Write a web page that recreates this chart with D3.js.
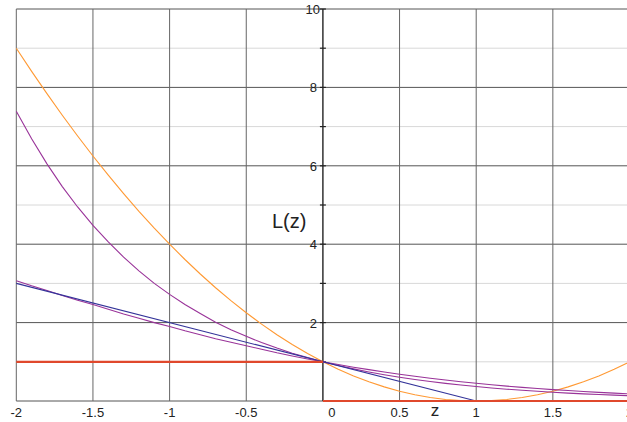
<!DOCTYPE html>
<html>
<head>
<meta charset="utf-8">
<script src="https://cdn.jsdelivr.net/npm/d3@7"></script>
<style>
  body { margin: 0; background: #fff; }
  svg { display: block; font-family: "Liberation Sans", Arial, sans-serif; }
</style>
</head>
<body>
<svg width="627" height="422"></svg>
<script>
// sample points along z
var zs = [-2, -1.9, -1.8, -1.7, -1.6, -1.5, -1.4, -1.3, -1.2, -1.1, -1,
          -0.9, -0.8, -0.7, -0.6, -0.5, -0.4, -0.3, -0.2, -0.1, 0,
          0.1, 0.2, 0.3, 0.4, 0.5, 0.6, 0.7, 0.8, 0.9, 1,
          1.1, 1.2, 1.3, 1.4, 1.5, 1.6, 1.7, 1.8, 1.9, 2];

var squareLoss = [9, 8.41, 7.84, 7.29, 6.76, 6.25, 5.76, 5.29, 4.84, 4.41, 4,
                  3.61, 3.24, 2.89, 2.56, 2.25, 1.96, 1.69, 1.44, 1.21, 1,
                  0.81, 0.64, 0.49, 0.36, 0.25, 0.16, 0.09, 0.04, 0.01, 0,
                  0.01, 0.04, 0.09, 0.16, 0.25, 0.36, 0.49, 0.64, 0.81, 1];

var expLoss = [7.39, 6.69, 6.05, 5.47, 4.95, 4.48, 4.06, 3.67, 3.32, 3.00, 2.72,
               2.46, 2.23, 2.01, 1.82, 1.65, 1.49, 1.35, 1.22, 1.11, 1,
               0.905, 0.819, 0.741, 0.670, 0.607, 0.549, 0.497, 0.449, 0.407, 0.368,
               0.333, 0.301, 0.273, 0.247, 0.223, 0.202, 0.183, 0.165, 0.150, 0.135];

var logLoss = [3.07, 2.94, 2.82, 2.69, 2.57, 2.46, 2.34, 2.22, 2.11, 2.00, 1.90,
               1.79, 1.69, 1.59, 1.50, 1.41, 1.32, 1.23, 1.15, 1.07, 1,
               0.930, 0.863, 0.800, 0.740, 0.684, 0.631, 0.582, 0.535, 0.492, 0.452,
               0.415, 0.380, 0.348, 0.319, 0.291, 0.266, 0.242, 0.221, 0.201, 0.183];

var hingeZ = [-2, 1, 2];
var hingeLoss = [3, 0, 0];

// 0-1 loss, two flat pieces (no vertical jump drawn)
var stepLeftZ = [-2, 0];
var stepLeftLoss = [1, 1];
var stepRightZ = [0, 2];
var stepRightLoss = [0, 0];

var xTicks = [-2, -1.5, -1, -0.5, 0, 0.5, 1, 1.5, 2];
var xTickLabels = ["-2", "-1.5", "-1", "-0.5", "0", "0.5", "1", "1.5", "2"];
var yMajor = [2, 4, 6, 8, 10];
var yMinor = [1, 3, 5, 7, 9];

var svg = d3.select("svg");

var x = d3.scaleLinear().domain([-2, 2]).range([16.3, 629.5]);
var y = d3.scaleLinear().domain([0, 10]).range([401, 9]);

function pts(xs, ys) {
  return xs.map(function(v, i) { return [v, ys[i]]; });
}

var line = d3.line()
  .x(function(d) { return x(d[0]); })
  .y(function(d) { return y(d[1]); });

// light grid at odd values
svg.append("g").selectAll("line")
  .data(yMinor).enter().append("line")
  .attr("x1", x(-2)).attr("x2", 627)
  .attr("y1", function(d) { return y(d); })
  .attr("y2", function(d) { return y(d); })
  .attr("stroke", "#d8d8d8").attr("stroke-width", 1);

// dark grid
svg.append("g").selectAll("line")
  .data(yMajor.concat([0])).enter().append("line")
  .attr("x1", x(-2)).attr("x2", 627)
  .attr("y1", function(d) { return y(d); })
  .attr("y2", function(d) { return y(d); })
  .attr("stroke", "#555").attr("stroke-width", 1);

svg.append("g").selectAll("line")
  .data(xTicks.filter(function(d) { return d !== 0; })).enter().append("line")
  .attr("x1", function(d) { return x(d); })
  .attr("x2", function(d) { return x(d); })
  .attr("y1", y(10)).attr("y2", y(0))
  .attr("stroke", "#666").attr("stroke-width", 1);

// z = 0 axis with small ticks
svg.append("line")
  .attr("x1", x(0)).attr("x2", x(0))
  .attr("y1", y(10)).attr("y2", y(0))
  .attr("stroke", "#222").attr("stroke-width", 1.4);

svg.append("g").selectAll("line")
  .data(yMinor.concat(yMajor)).enter().append("line")
  .attr("x1", x(0) - 3).attr("x2", x(0) + 3)
  .attr("y1", function(d) { return y(d); })
  .attr("y2", function(d) { return y(d); })
  .attr("stroke", "#222").attr("stroke-width", 1.2);

// curves
var curves = [
  { data: pts(zs, squareLoss), color: "#ff9933", w: 1.1 },
  { data: pts(zs, expLoss), color: "#993399", w: 1.1 },
  { data: pts(zs, logLoss), color: "#993399", w: 1.1 },
  { data: pts(hingeZ, hingeLoss), color: "#333399", w: 1.1 },
  { data: pts(stepLeftZ, stepLeftLoss), color: "#e0482c", w: 2.2 },
  { data: pts(stepRightZ, stepRightLoss), color: "#e0482c", w: 2.2 }
];

svg.append("g").selectAll("path")
  .data(curves).enter().append("path")
  .attr("d", function(d) { return line(d.data); })
  .attr("fill", "none")
  .attr("stroke", function(d) { return d.color; })
  .attr("stroke-width", function(d) { return d.w; });

// tick labels
svg.append("g").selectAll("text")
  .data(xTicks).enter().append("text")
  .attr("x", function(d) { return x(d) + (d === 0 ? 9 : 0); })
  .attr("y", 417)
  .attr("text-anchor", "middle")
  .attr("font-size", 13)
  .attr("fill", "#222")
  .text(function(d, i) { return xTickLabels[i]; });

svg.append("g").selectAll("text")
  .data(yMajor).enter().append("text")
  .attr("x", function(d) { return d === 10 ? x(0) - 3 : x(0) - 6; })
  .attr("y", function(d) { return y(d) + 5; })
  .attr("text-anchor", "end")
  .attr("font-size", 13)
  .attr("fill", "#222")
  .text(function(d) { return d; });

// axis titles
svg.append("text")
  .attr("x", 435).attr("y", 416)
  .attr("text-anchor", "middle")
  .attr("font-size", 17)
  .attr("fill", "#222")
  .text("z");

svg.append("text")
  .attr("x", 272).attr("y", 228)
  .attr("font-size", 20)
  .attr("fill", "#222")
  .text("L(z)");
</script>
</body>
</html>
